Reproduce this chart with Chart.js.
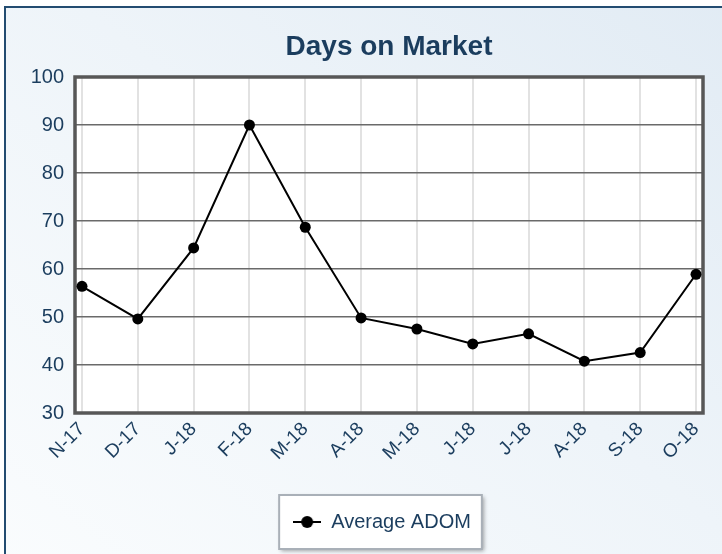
<!DOCTYPE html>
<html><head><meta charset="utf-8">
<script src="https://cdn.jsdelivr.net/npm/chart.js@4"></script>
<style>
html,body{margin:0;padding:0;width:722px;height:554px;overflow:hidden;background:#fff;}
#frame{position:absolute;left:4px;top:6px;width:760px;height:620px;border:2px solid #234c71;background:linear-gradient(to bottom left,#e1ebf4 0%,#eef4f9 45%,#fbfdfe 100%);}
canvas{position:absolute;left:0;top:0;}
</style></head><body>
<div id="frame"></div>
<canvas id="c" width="722" height="554"></canvas>
<script>
const xLabels = ['N-17','D-17','J-18','F-18','M-18','A-18','M-18','J-18','J-18','A-18','S-18','O-18'];
const adomValues = [56.4, 49.6, 64.4, 90.0, 68.7, 49.8, 47.5, 44.4, 46.5, 40.8, 42.6, 58.9];
const yTickValues = [30, 40, 50, 60, 70, 80, 90, 100];
const seriesName = 'Average ADOM';
const chartTitle = 'Days on Market';

const NAVY = '#1b3d5e';
const FONT = "'Liberation Sans', Arial, sans-serif";

// legend marker: line with a circle
const marker = document.createElement('canvas');
marker.width = 28; marker.height = 14;
(function(){
  const m = marker.getContext('2d');
  m.strokeStyle = '#000'; m.lineWidth = 2;
  m.beginPath(); m.moveTo(0, 7); m.lineTo(28, 7); m.stroke();
  m.fillStyle = '#000';
  m.beginPath(); m.arc(14, 7, 6, 0, Math.PI * 2); m.fill();
})();

const plotFrame = {
  id: 'plotFrame',
  afterLayout(chart) {
    const a = chart.chartArea;
    if (chart.titleBlock) { chart.titleBlock.left = a.left; chart.titleBlock.right = a.right; }
    if (chart.legend) { chart.legend.left = a.left - 14; chart.legend.right = a.right; }
  },
  beforeDraw(chart) {
    const {ctx, chartArea: a} = chart;
    ctx.save();
    ctx.fillStyle = '#ffffff';
    ctx.fillRect(a.left, a.top, a.width, a.height);
    const lg = chart.legend;
    if (lg && lg.legendHitBoxes && lg.legendHitBoxes.length) {
      const hb = lg.legendHitBoxes[0];
      const cy = hb.top + hb.height / 2;
      const x0 = hb.left - 14, x1 = hb.left + hb.width + 11;
      ctx.shadowColor = 'rgba(0,0,0,0.35)';
      ctx.shadowBlur = 4; ctx.shadowOffsetX = 2; ctx.shadowOffsetY = 2;
      ctx.fillStyle = '#ffffff';
      ctx.fillRect(x0, cy - 27, x1 - x0, 54);
      ctx.shadowColor = 'transparent';
      ctx.strokeStyle = '#a9b0b8'; ctx.lineWidth = 2;
      ctx.strokeRect(x0, cy - 27, x1 - x0, 54);
    }
    ctx.restore();
  },
  beforeDatasetsDraw(chart) {
    const {ctx, chartArea: a} = chart;
    ctx.save();
    ctx.strokeStyle = '#575757'; ctx.lineWidth = 3.5;
    ctx.strokeRect(a.left, a.top, a.width, a.height);
    ctx.restore();
  }
};

new Chart(document.getElementById('c'), {
  type: 'line',
  data: {
    datasets: [{
      label: seriesName,
      data: adomValues.map((v, i) => ({x: i, y: v})),
      borderColor: '#000',
      backgroundColor: '#000',
      borderWidth: 2,
      pointRadius: 5.5,
      pointHoverRadius: 5.5,
      pointBackgroundColor: '#000',
      pointBorderWidth: 0,
      tension: 0,
      fill: false
    }]
  },
  options: {
    responsive: false,
    animation: false,
    devicePixelRatio: 1,
    layout: { padding: { left: 0, right: 19, top: 0, bottom: 12 } },
    plugins: {
      title: {
        display: true, text: chartTitle, color: NAVY,
        font: { family: FONT, size: 28, weight: 'bold' },
        padding: { top: 30, bottom: 13.4 }
      },
      legend: {
        display: true, position: 'bottom',
        labels: {
          color: NAVY, font: { family: FONT, size: 20 },
          usePointStyle: true, pointStyle: marker, pointStyleWidth: 28, padding: 10
        }
      },
      tooltip: { enabled: false }
    },
    scales: {
      x: {
        type: 'linear', min: -0.125, max: xLabels.length - 1 + 0.125,
        afterBuildTicks: s => { s.ticks = xLabels.map((_, i) => ({value: i})); },
        afterFit: s => { s.height = 89; },
        grid: { color: '#e2e2e2', lineWidth: 2, drawTicks: false },
        border: { display: false },
        ticks: {
          autoSkip: false, minRotation: 45, maxRotation: 45, padding: 5,
          color: NAVY, font: { family: FONT, size: 19 },
          callback: v => xLabels[v]
        }
      },
      y: {
        min: yTickValues[0], max: yTickValues[yTickValues.length - 1],
        afterBuildTicks: s => { s.ticks = yTickValues.map(v => ({value: v})); },
        afterFit: s => { s.width = 75; },
        grid: { color: '#6a6a6a', lineWidth: 1.5, drawTicks: false },
        border: { display: false },
        ticks: { padding: 11, color: NAVY, font: { family: FONT, size: 20 } }
      }
    }
  },
  plugins: [plotFrame]
});
</script>
</body></html>
